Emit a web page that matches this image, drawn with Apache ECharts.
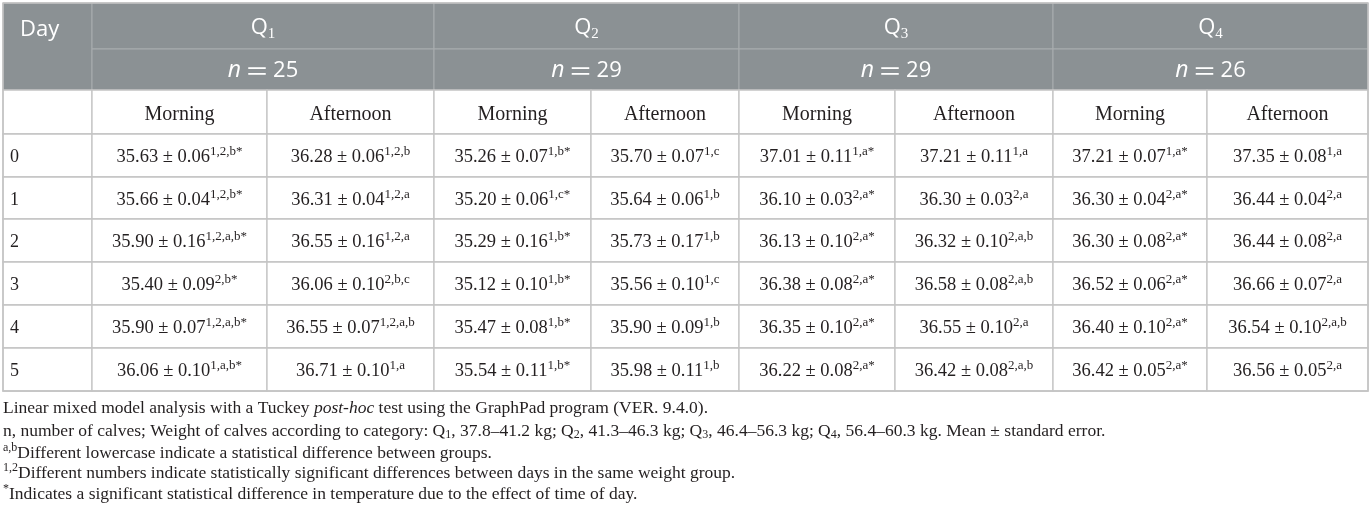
<!DOCTYPE html>
<html>
<head>
<meta charset="utf-8">
<script src="https://cdn.jsdelivr.net/npm/echarts@6/dist/echarts.min.js"></script>
<style>
html, body { margin: 0; padding: 0; background: #fff; }
#table-chart { width: 1372px; height: 522px; }
</style>
</head>
<body>
<div id="table-chart"></div>
<script>
var days = ['0', '1', '2', '3', '4', '5'];
var groupIndex = ['1', '2', '3', '4'];
var groupSizes = [25, 29, 29, 26];
var periods = ['Morning', 'Afternoon'];

// [morning, afternoon]
var q1Mean = [[35.63, 35.66, 35.90, 35.40, 35.90, 36.06], [36.28, 36.31, 36.55, 36.06, 36.55, 36.71]];
var q1Se = [[0.06, 0.04, 0.16, 0.09, 0.07, 0.10], [0.06, 0.04, 0.16, 0.10, 0.07, 0.10]];
var q1Sup = [['1,2,b*', '1,2,b*', '1,2,a,b*', '2,b*', '1,2,a,b*', '1,a,b*'], ['1,2,b', '1,2,a', '1,2,a', '2,b,c', '1,2,a,b', '1,a']];

var q2Mean = [[35.26, 35.20, 35.29, 35.12, 35.47, 35.54], [35.70, 35.64, 35.73, 35.56, 35.90, 35.98]];
var q2Se = [[0.07, 0.06, 0.16, 0.10, 0.08, 0.11], [0.07, 0.06, 0.17, 0.10, 0.09, 0.11]];
var q2Sup = [['1,b*', '1,c*', '1,b*', '1,b*', '1,b*', '1,b*'], ['1,c', '1,b', '1,b', '1,c', '1,b', '1,b']];

var q3Mean = [[37.01, 36.10, 36.13, 36.38, 36.35, 36.22], [37.21, 36.30, 36.32, 36.58, 36.55, 36.42]];
var q3Se = [[0.11, 0.03, 0.10, 0.08, 0.10, 0.08], [0.11, 0.03, 0.10, 0.08, 0.10, 0.08]];
var q3Sup = [['1,a*', '2,a*', '2,a*', '2,a*', '2,a*', '2,a*'], ['1,a', '2,a', '2,a,b', '2,a,b', '2,a', '2,a,b']];

var q4Mean = [[37.21, 36.30, 36.30, 36.52, 36.40, 36.42], [37.35, 36.44, 36.44, 36.66, 36.54, 36.56]];
var q4Se = [[0.07, 0.04, 0.08, 0.06, 0.10, 0.05], [0.08, 0.04, 0.08, 0.07, 0.10, 0.05]];
var q4Sup = [['1,a*', '2,a*', '2,a*', '2,a*', '2,a*', '2,a*'], ['1,a', '2,a', '2,a', '2,a', '2,a,b', '2,a']];

var footnotes = [
    'Linear mixed model analysis with a Tuckey {i|post-hoc} test using the GraphPad program (VER. 9.4.0).',
    'n, number of calves; Weight of calves according to category: Q{d|1}, 37.8–41.2 kg; Q{d|2}, 41.3–46.3 kg; Q{d|3}, 46.4–56.3 kg; Q{d|4}, 56.4–60.3 kg. Mean ± standard error.',
    '{u|a,b}Different lowercase indicate a statistical difference between groups.',
    '{u|1,2}Different numbers indicate statistically significant differences between days in the same weight group.',
    '{u|*}Indicates a significant statistical difference in temperature due to the effect of time of day.'
];

// table layout (axis units)
var colEdges = [0, 89, 264, 431, 588, 736, 892, 1050, 1204, 1365];
var rowEdges = [0, 46, 87, 131, 174, 216, 259, 302, 345, 388];

var HEAD_BG = '#8b9194';
var HEAD_LINE = '#a9adaf';
var BODY_LINE = '#c4c4c4';
var INK = '#231f20';
var SERIF = 'Liberation Serif';
var SANS = 'Open Sans';

var groupMeans = [q1Mean, q2Mean, q3Mean, q4Mean];
var groupSes = [q1Se, q2Se, q3Se, q4Se];
var groupSups = [q1Sup, q2Sup, q3Sup, q4Sup];

var headRich = {
    q: { fontFamily: SANS, fontSize: 22, color: '#fff', lineHeight: 28 },
    qs: { fontFamily: SERIF, fontSize: 15, color: '#fff', lineHeight: 20, verticalAlign: 'bottom' },
    ni: { fontFamily: SANS, fontSize: 23, fontStyle: 'italic', color: '#fff', lineHeight: 28 },
    eq: { fontFamily: 'Noto Sans CJK SC', fontSize: 24, color: '#fff', lineHeight: 28, padding: [0, 4] },
    nv: { fontFamily: SANS, fontSize: 22, color: '#fff', lineHeight: 28 }
};
// bottom padding lifts the superscript above the figures
var bodyRich = {
    v: { fontFamily: SERIF, fontSize: 18.5, color: INK, lineHeight: 20 },
    s: { fontFamily: SERIF, fontSize: 13, color: INK, lineHeight: 20, padding: [0, 0, 11, 0] }
};

// cells: [col0, col1, row0, row1]
var cells = [];
var cellInfo = [];
function addCell(c0, c1, r0, r1, info) {
    cells.push([colEdges[c0], colEdges[c1], rowEdges[r0], rowEdges[r1]]);
    cellInfo.push(info);
}

addCell(0, 1, 0, 2, { head: true, text: 'Day', align: 'left', pad: 17, font: SANS, size: 22, dy: -17 });
groupIndex.forEach(function (g, i) {
    addCell(1 + 2 * i, 3 + 2 * i, 0, 1, { head: true, text: '{q|Q}{qs|' + g + '}', rich: headRich, dy: 2 });
    addCell(1 + 2 * i, 3 + 2 * i, 1, 2, { head: true, text: '{ni|n}{eq|＝}{nv|' + groupSizes[i] + '}', rich: headRich, dy: 1 });
});
addCell(0, 1, 2, 3, { text: '' });
groupIndex.forEach(function (g, i) {
    periods.forEach(function (p, j) {
        addCell(1 + 2 * i + j, 2 + 2 * i + j, 2, 3, { text: p, font: SERIF, size: 20, dy: 3 });
    });
});
days.forEach(function (d, r) {
    addCell(0, 1, 3 + r, 4 + r, { text: d, align: 'left', pad: 7, font: SERIF, size: 18, dy: 2 });
    groupIndex.forEach(function (g, i) {
        periods.forEach(function (p, j) {
            var txt = '{v|' + groupMeans[i][j][r].toFixed(2) + ' ± ' + groupSes[i][j][r].toFixed(2) + '}{s|' + groupSups[i][j][r] + '}';
            addCell(1 + 2 * i + j, 2 + 2 * i + j, 3 + r, 4 + r, { text: txt, rich: bodyRich, dy: 2 });
        });
    });
});

function renderCell(params, api) {
    var info = cellInfo[params.dataIndex];
    var p0 = api.coord([api.value(0), api.value(2)]);
    var p1 = api.coord([api.value(1), api.value(3)]);
    var x = p0[0], y = p0[1], w = p1[0] - p0[0], h = p1[1] - p0[1];
    var children = [{
        type: 'rect',
        shape: { x: x, y: y, width: w, height: h },
        style: {
            fill: info.head ? HEAD_BG : '#fff',
            stroke: info.head ? HEAD_LINE : BODY_LINE,
            lineWidth: info.head ? 1 : 1.3
        }
    }];
    if (info.text) {
        var style = {
            text: info.text,
            x: info.align === 'left' ? x + info.pad : x + w / 2,
            y: y + h / 2 + (info.dy || 0),
            align: info.align || 'center',
            verticalAlign: 'middle',
            fill: info.head ? '#fff' : INK
        };
        if (info.rich) {
            style.rich = info.rich;
        } else {
            style.fontFamily = info.font;
            style.fontSize = info.size;
        }
        children.push({ type: 'text', style: style });
    }
    return { type: 'group', children: children };
}

var footRich = {
    i: { fontFamily: SERIF, fontSize: 17.5, fontStyle: 'italic', color: INK, lineHeight: 20 },
    d: { fontFamily: SERIF, fontSize: 12, color: INK, lineHeight: 12, verticalAlign: 'bottom' },
    u: { fontFamily: SERIF, fontSize: 12, color: INK, lineHeight: 20, padding: [0, 0, 10, 0] }
};
var footTops = [398, 421, 443, 463, 484];

var myChart = echarts.init(document.getElementById('table-chart'));
var option = {
    animation: false,
    title: footnotes.map(function (t, k) {
        return {
            text: t,
            left: 3,
            top: footTops[k],
            padding: 0,
            textStyle: {
                fontFamily: SERIF,
                fontSize: 17.5,
                fontWeight: 'normal',
                color: INK,
                lineHeight: 20,
                rich: footRich
            }
        };
    }),
    grid: { left: 3, top: 3, width: 1365, height: 388 },
    xAxis: { type: 'value', min: 0, max: 1365, show: false },
    yAxis: { type: 'value', min: 0, max: 388, inverse: true, show: false },
    series: [{
        type: 'custom',
        renderItem: renderCell,
        data: cells,
        silent: true
    }, {
        // frame around the whole table
        type: 'custom',
        data: [[0, 1365, 0, 388]],
        silent: true,
        z: 5,
        renderItem: function (params, api) {
            var p0 = api.coord([api.value(0), api.value(2)]);
            var p1 = api.coord([api.value(1), api.value(3)]);
            return {
                type: 'rect',
                shape: { x: p0[0], y: p0[1], width: p1[0] - p0[0], height: p1[1] - p0[1] },
                style: { fill: 'none', stroke: BODY_LINE, lineWidth: 1.5 }
            };
        }
    }]
};
myChart.setOption(option);
</script>
</body>
</html>
